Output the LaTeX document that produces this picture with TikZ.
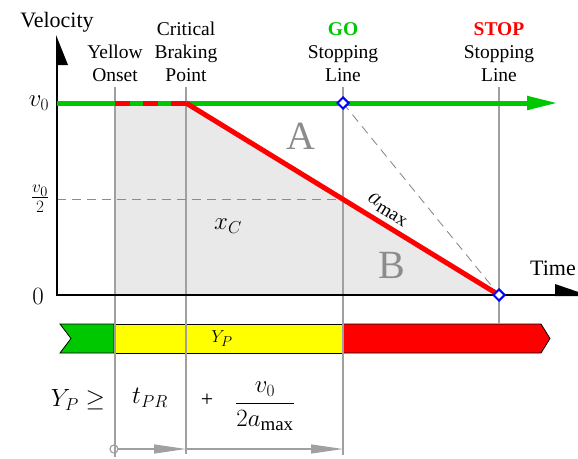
\documentclass[tikz,border=0pt]{standalone}
\usepackage{amsmath}
\usepackage{fontspec}
\setmainfont{Liberation Serif}
\usepackage{tikz}
\usepackage{xcolor}
\usetikzlibrary{shapes.geometric, arrows.meta}
\definecolor{GoGreen}{HTML}{00C800}
\definecolor{StopRed}{HTML}{FF0000}
\definecolor{AmberYellow}{HTML}{FFFF00}
\definecolor{GuideGray}{HTML}{A0A0A0}
\definecolor{DashGray}{HTML}{8C8C8C}
\definecolor{ZoneGray}{HTML}{E9E9E9}
\definecolor{LetterGray}{HTML}{8C8C8C}
\definecolor{MarkBlue}{HTML}{0000FF}

\begin{document}
\begin{tikzpicture}[x=1pt, y=-1pt,
    headtext/.style={font=\fontsize{19.5}{23}\selectfont, align=center, anchor=south, inner sep=0pt},
    mathtext/.style={font=\fontsize{27}{31}\selectfont, inner sep=0pt},
    zonetext/.style={font=\fontsize{40}{40}\selectfont, text=LetterGray, inner sep=0pt},
    guide/.style={GuideGray, line width=1.2pt},
    refdash/.style={DashGray, line width=0.9pt, dash pattern=on 9pt off 6pt},
    stopmark/.style={diamond, draw=MarkBlue, fill=white, line width=2pt, minimum size=12pt, inner sep=0pt},
    barpart/.style={draw=black, line width=0.8pt},
    span/.style={GuideGray, line width=1.2pt, -{Triangle[length=32pt, width=9pt]}}]
    \path[use as bounding box, clip] (0,0) rectangle (578,458);

    % Distance covered while braking
    \fill[ZoneGray] (115,103) -- (186,103) -- (499,295) -- (115,295) -- cycle;

    % Signal phases
    \filldraw[barpart, fill=GoGreen] (60,324) -- (114,324) -- (114,353) -- (60,353) -- (71,338.5) -- cycle;
    \filldraw[barpart, fill=AmberYellow] (114,324) rectangle (343,353);
    \filldraw[barpart, fill=StopRed] (343,324) -- (541,324) -- (550,338.5) -- (541,353) -- (343,353) -- cycle;
    \node[font=\fontsize{19}{22}\selectfont, inner sep=0pt] (ypbar) at (222,339) {$Y_P$};

    % Guide lines
    \draw[guide] (115,87) -- (115,457);
    \draw[guide] (186,87) -- (186,454);
    \draw[guide] (343,87) -- (343,455);
    \draw[guide] (499,87) -- (499,324);

    % Reference lines
    \draw[refdash] (57,199) -- (343,199);
    \draw[refdash] (343,103) -- (499,295);

    % Axes
    \draw[line width=2pt] (57,296) -- (57,62);
    \fill (56,35) -- (68,65) -- (56,65) -- cycle;
    \draw[line width=2pt] (57,295) -- (558,295);
    \fill (555,284) -- (590,296) -- (555,296) -- cycle;
    \node[font=\fontsize{22}{26}\selectfont, anchor=base, inner sep=0pt] (vel) at (57,27) {Velocity};
    \node[font=\fontsize{22}{26}\selectfont, anchor=base west, inner sep=0pt] (time) at (530,275) {Time};

    % Speed profile
    \draw[GoGreen, line width=5pt, -{Triangle[length=31pt, width=13pt]}] (57,103) -- (558,103);
    \foreach \xs in {115,143,171}
        \draw[StopRed, line width=5pt] (\xs,103) -- ++(14.5,0);
    \draw[StopRed, line width=5pt] (186,103) -- (499,295)
        node[pos=0.62, sloped, above, mathtext, text=black, inner sep=5pt] (amax) {$a_{\max}$};
    \node[stopmark] (gomark) at (343,103) {};
    \node[stopmark] (stopmark) at (499,295) {};

    % Event labels
    \node[headtext] (onset) at (115,82) {Yellow\\Onset};
    \node[headtext] (cbp) at (186,82) {Critical\\Braking\\Point};
    \node[headtext] (goline) at (343,82) {\textcolor{GoGreen}{\textbf{GO}}\\Stopping\\Line};
    \node[headtext] (stopline) at (499,82) {\textcolor{StopRed}{\textbf{STOP}}\\Stopping\\Line};

    % Axis values and areas
    \node[mathtext] (vzero) at (39,103) {$v_0$};
    \node[mathtext] (vhalf) at (40,199) {$\frac{v_0}{2}$};
    \node[mathtext] (zero) at (38,296) {$0$};
    \node[mathtext] (xc) at (228,226) {$x_C$};
    \node[zonetext] (areaA) at (301,136) {A};
    \node[zonetext] (areaB) at (392,265) {B};

    % Yellow interval
    \node[mathtext] (ypge) at (78,400) {$Y_P \geq$};
    \node[mathtext] (tpr) at (150,398) {$t_{PR}$};
    \node[font=\fontsize{22}{26}\selectfont, inner sep=0pt] (plus) at (207,400) {+};
    \node[mathtext] (brk) at (265,406) {$\dfrac{v_0}{2a_{\max}}$};
    \draw[guide] (114,449) circle (4pt);
    \draw[span] (118,449) -- (186,449);
    \draw[span] (186,449) -- (343,449);
\end{tikzpicture}
\end{document}
